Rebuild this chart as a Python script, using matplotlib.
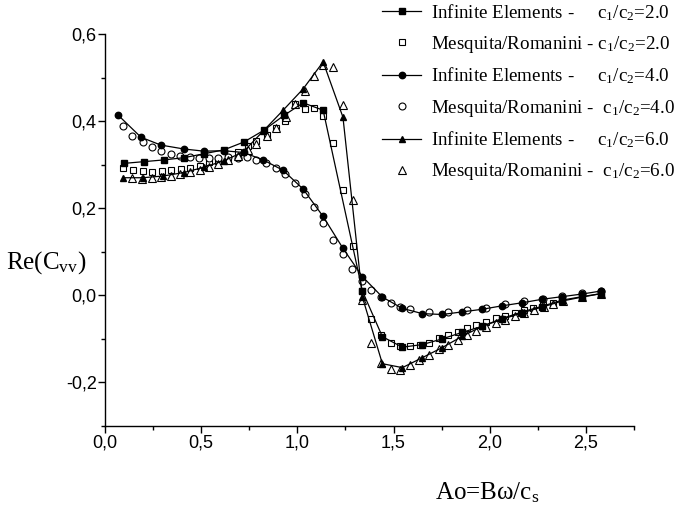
import matplotlib
matplotlib.use("Agg")
import matplotlib.pyplot as plt
from matplotlib.ticker import MultipleLocator, FuncFormatter

plt.rcParams['font.family'] = 'Liberation Sans'
plt.rcParams['mathtext.default'] = 'regular'

# === Data ===
# Infinite Elements, c1/c2 = 2.0 (filled squares + line)
ie2_x = [0.10, 0.204, 0.308, 0.41, 0.514, 0.618, 0.722, 0.826, 0.93, 1.03, 1.134,
         1.338, 1.442, 1.546, 1.65, 1.753, 1.857, 1.961, 2.065, 2.169, 2.273, 2.377, 2.48, 2.58]
ie2_y = [0.303, 0.307, 0.311, 0.316, 0.325, 0.334, 0.352, 0.379, 0.413, 0.442, 0.425,
         0.010, -0.095, -0.119, -0.113, -0.100, -0.085, -0.071, -0.055, -0.040, -0.027, -0.013, -0.004, 0.004]

# Infinite Elements, c1/c2 = 4.0 (filled circles + line)
ie4_x = [0.07, 0.187, 0.29, 0.41, 0.514, 0.618, 0.72, 0.822, 0.926, 1.03, 1.134, 1.237,
         1.338, 1.442, 1.546, 1.65, 1.753, 1.857, 1.961, 2.065, 2.169, 2.273, 2.377, 2.48, 2.58]
ie4_y = [0.413, 0.363, 0.345, 0.336, 0.331, 0.332, 0.328, 0.311, 0.287, 0.244, 0.181, 0.108,
         0.043, -0.004, -0.030, -0.042, -0.044, -0.038, -0.032, -0.024, -0.017, -0.009, -0.003, 0.003, 0.010]

# Infinite Elements, c1/c2 = 6.0 (filled triangles + line)
ie6_x = [0.092, 0.196, 0.303, 0.41, 0.514, 0.618, 0.718, 0.822, 0.926, 1.03, 1.134, 1.237,
         1.338, 1.442, 1.546, 1.65, 1.753, 1.857, 1.961, 2.065, 2.169, 2.273, 2.377, 2.48, 2.58]
ie6_y = [0.270, 0.270, 0.274, 0.282, 0.294, 0.309, 0.329, 0.377, 0.425, 0.474, 0.536, 0.409,
         -0.004, -0.157, -0.166, -0.143, -0.120, -0.094, -0.071, -0.053, -0.038, -0.025, -0.011, -0.003, 0.004]

# Mesquita/Romanini, c1/c2 = 2.0 (open squares)
mr2_x = [0.092, 0.144, 0.196, 0.242, 0.294, 0.343, 0.393, 0.441, 0.493, 0.542, 0.589, 0.64,
         0.692, 0.744, 0.787, 0.84, 0.888, 0.938, 0.987, 1.038, 1.087, 1.134, 1.185, 1.237,
         1.289, 1.338, 1.385, 1.436, 1.485, 1.535, 1.584, 1.636, 1.684, 1.734, 1.783, 1.835,
         1.881, 1.93, 1.982, 2.034, 2.08, 2.132, 2.177, 2.227, 2.276, 2.328, 2.376, 2.478, 2.58]
mr2_y = [0.292, 0.287, 0.286, 0.284, 0.286, 0.287, 0.290, 0.293, 0.297, 0.305, 0.309, 0.316,
         0.328, 0.344, 0.354, 0.368, 0.385, 0.400, 0.440, 0.428, 0.430, 0.411, 0.350, 0.242,
         0.113, 0.011, -0.055, -0.091, -0.110, -0.117, -0.117, -0.113, -0.109, -0.099, -0.091, -0.084,
         -0.076, -0.069, -0.061, -0.053, -0.047, -0.040, -0.034, -0.028, -0.023, -0.018, -0.011, -0.004, 0.004]

# Mesquita/Romanini, c1/c2 = 4.0 (open circles)
mr4_x = [0.092, 0.142, 0.196, 0.242, 0.291, 0.341, 0.389, 0.441, 0.49, 0.54, 0.59, 0.64,
         0.692, 0.739, 0.787, 0.838, 0.888, 0.937, 0.99, 1.038, 1.087, 1.134, 1.185, 1.236,
         1.286, 1.338, 1.385, 1.436, 1.485, 1.535, 1.584, 1.684, 1.783, 1.881, 1.982, 2.08,
         2.177, 2.276, 2.376, 2.478, 2.58]
mr4_y = [0.389, 0.366, 0.352, 0.341, 0.331, 0.325, 0.320, 0.318, 0.316, 0.316, 0.316, 0.317,
         0.316, 0.317, 0.311, 0.304, 0.292, 0.279, 0.259, 0.232, 0.202, 0.165, 0.128, 0.095,
         0.061, 0.034, 0.013, -0.004, -0.017, -0.027, -0.032, -0.038, -0.038, -0.034, -0.028, -0.021,
         -0.014, -0.008, -0.001, 0.005, 0.010]

# Mesquita/Romanini, c1/c2 = 6.0 (open triangles)
mr6_x = [0.138, 0.19, 0.242, 0.29, 0.343, 0.39, 0.441, 0.493, 0.54, 0.589, 0.64, 0.69,
         0.741, 0.787, 0.84, 0.888, 0.94, 0.99, 1.04, 1.087, 1.134, 1.185, 1.237, 1.289,
         1.338, 1.385, 1.436, 1.485, 1.535, 1.584, 1.634, 1.684, 1.734, 1.783, 1.835, 1.881,
         1.93, 1.982, 2.034, 2.08, 2.13, 2.18, 2.23, 2.28, 2.33, 2.38, 2.48, 2.58]
mr6_y = [0.269, 0.268, 0.269, 0.271, 0.274, 0.278, 0.283, 0.287, 0.294, 0.301, 0.310, 0.320,
         0.333, 0.347, 0.365, 0.385, 0.410, 0.440, 0.470, 0.503, 0.528, 0.525, 0.438, 0.218,
         -0.010, -0.109, -0.155, -0.170, -0.172, -0.160, -0.148, -0.136, -0.124, -0.113, -0.102, -0.092,
         -0.082, -0.073, -0.064, -0.056, -0.048, -0.040, -0.033, -0.026, -0.019, -0.013, -0.004, 0.003]

labels = [
    "Infinite Elements -     c$_1$/c$_2$=2.0",
    "Mesquita/Romanini - c$_1$/c$_2$=2.0",
    "Infinite Elements -     c$_1$/c$_2$=4.0",
    "Mesquita/Romanini -  c$_1$/c$_2$=4.0",
    "Infinite Elements -     c$_1$/c$_2$=6.0",
    "Mesquita/Romanini -  c$_1$/c$_2$=6.0",
]

# === Figure ===
fig = plt.figure(figsize=(6.8, 5.18), dpi=100)
ax = fig.add_axes([105 / 680, 1 - 426 / 518, 529 / 680, 392 / 518])

open_kw = dict(linestyle='none', color='black', markerfacecolor='white',
               markeredgewidth=0.8, zorder=2)
ie_kw = dict(color='black', linewidth=0.9, zorder=3)

h2, = ax.plot(ie2_x, ie2_y, marker='s', markersize=4.2, **ie_kw)
m2, = ax.plot(mr2_x, mr2_y, marker='s', markersize=5, **open_kw)
h4, = ax.plot(ie4_x, ie4_y, marker='o', markersize=4.6, **ie_kw)
m4, = ax.plot(mr4_x, mr4_y, marker='o', markersize=5, **open_kw)
h6, = ax.plot(ie6_x, ie6_y, marker='^', markersize=5, **ie_kw)
m6, = ax.plot(mr6_x, mr6_y, marker='^', markersize=5.5, **open_kw)

ax.set_xlim(0, 2.75)
ax.set_ylim(-0.3, 0.6)
ax.spines['top'].set_visible(False)
ax.spines['right'].set_visible(False)
for s in ['left', 'bottom']:
    ax.spines[s].set_linewidth(1.0)

ax.xaxis.set_major_locator(MultipleLocator(0.5))
ax.xaxis.set_minor_locator(MultipleLocator(0.25))
ax.yaxis.set_major_locator(MultipleLocator(0.2))
ax.yaxis.set_minor_locator(MultipleLocator(0.1))
comma = FuncFormatter(lambda v, pos: f"{v:.1f}".replace('.', ',').replace('-0,0', '0,0'))
ax.xaxis.set_major_formatter(comma)
ax.yaxis.set_major_formatter(comma)
ax.tick_params(which='major', length=5, width=1.0, labelsize=13, pad=1)
ax.tick_params(which='minor', length=3, width=1.0)

ax.set_xlabel("Ao=B\u03c9/c$_s$", family='Liberation Serif', fontsize=18)
ax.xaxis.set_label_coords(0.722, -0.14)
ax.set_ylabel("Re(C$_{vv}$)", family='Liberation Serif', fontsize=18,
              rotation=0, ha='center', va='center')
ax.yaxis.set_label_coords(-0.112, 0.418)

fig.legend([h2, m2, h4, m4, h6, m6], labels, loc='upper left',
           bbox_to_anchor=(382 / 680, 1 - 2 / 518), frameon=False,
           prop={'family': 'Liberation Serif', 'size': 13.7},
           borderpad=0, borderaxespad=0, handlelength=2.05, handletextpad=0.5,
           labelspacing=0.58, numpoints=1)

fig.savefig("out.png", dpi=100)
